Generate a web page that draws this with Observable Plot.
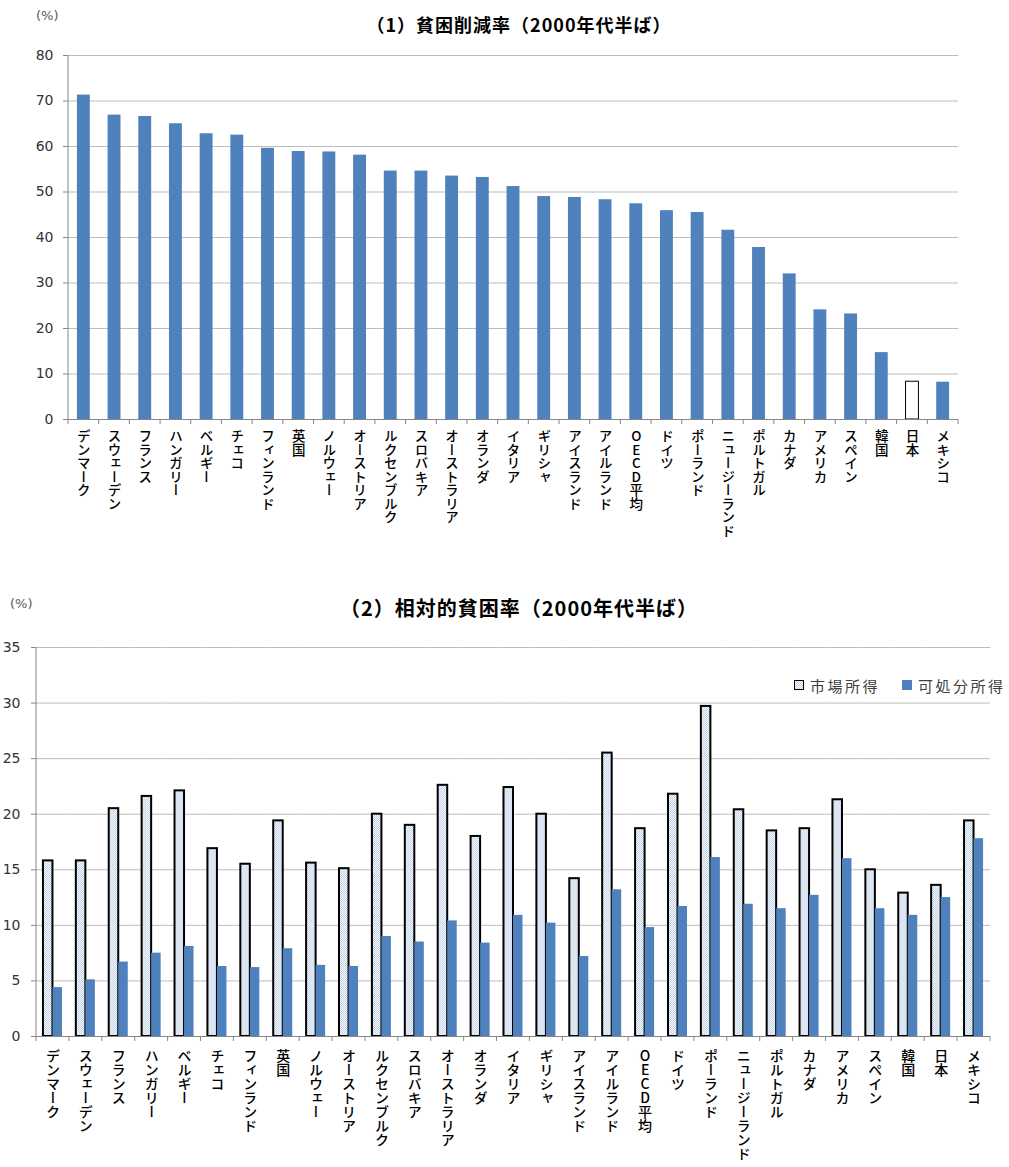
<!DOCTYPE html>
<html><head><meta charset="utf-8">
<script src="https://cdn.jsdelivr.net/npm/d3@7"></script>
<script src="https://cdn.jsdelivr.net/npm/@observablehq/plot@0.6"></script>
<style>
body{margin:0;background:#fff;width:1009px;height:1167px;position:relative;overflow:hidden;font-family:"Noto Sans CJK JP",sans-serif;}
.abs{position:absolute;}
.title{font-weight:bold;color:#000;white-space:nowrap;transform:translate(-50%,-50%);line-height:1;}
.pct{font-size:13px;color:#595959;font-family:"DejaVu Sans",sans-serif;line-height:1;transform:translateY(-50%);}
.leg{font-size:15px;letter-spacing:2.5px;color:#404040;line-height:1;transform:translateY(-50%);white-space:nowrap;}
.sw{position:absolute;width:8px;height:8px;}
.sw.pat{border:1.5px solid #000;background:repeating-conic-gradient(#b9cde5 0 25%, #fff 0 50%) 0 0/2px 2px;}
.sw.blue{background:#4f81bd;width:10px;height:10px;}
</style></head><body>
<div class="abs pct" style="left:36px;top:15px">(%)</div>
<div class="abs title" style="left:519px;top:24px;font-size:18px;letter-spacing:1px">（1）貧困削減率（2000年代半ば）</div>
<div id="c1" class="abs" style="left:0;top:40px"></div>
<div class="abs pct" style="left:10px;top:603px">(%)</div>
<div class="abs title" style="left:519px;top:608px;font-size:20px;letter-spacing:1px">（2）相対的貧困率（2000年代半ば）</div>
<div id="c2" class="abs" style="left:0;top:630px"></div>
<div class="sw pat" style="left:794px;top:680px"></div>
<div class="abs leg" id="leg1" style="left:810px;top:685px"></div>
<div class="sw blue" style="left:902px;top:680px"></div>
<div class="abs leg" id="leg2" style="left:918px;top:685px"></div>
<script>
const categories = ["デンマーク","スウェーデン","フランス","ハンガリー","ベルギー","チェコ","フィンランド","英国","ノルウェー","オーストリア","ルクセンブルク","スロバキア","オーストラリア","オランダ","イタリア","ギリシャ","アイスランド","アイルランド","OECD平均","ドイツ","ポーランド","ニュージーランド","ポルトガル","カナダ","アメリカ","スペイン","韓国","日本","メキシコ"];
const reductionRate = [71.3,66.9,66.6,65.0,62.8,62.5,59.6,58.9,58.8,58.1,54.6,54.6,53.5,53.2,51.2,49.0,48.8,48.3,47.4,45.9,45.5,41.6,37.8,32.0,24.1,23.2,14.7,8.3,8.2];
const seriesNames = ["市場所得","可処分所得"];
const marketIncome = [15.8,15.8,20.5,21.6,22.1,16.9,15.5,19.4,15.6,15.1,20.0,19.0,22.6,18.0,22.4,20.0,14.2,25.5,18.7,21.8,29.7,20.4,18.5,18.7,21.3,15.0,12.9,13.6,19.4];
const disposableIncome = [4.4,5.1,6.7,7.5,8.1,6.3,6.2,7.9,6.4,6.3,9.0,8.5,10.4,8.4,10.9,10.2,7.2,13.2,9.8,11.7,16.1,11.9,11.5,12.7,16.0,11.5,10.9,12.5,17.8];
const highlight = "日本";
const ticks1 = [0,10,20,30,40,50,60,70,80];
const ticks2 = [0,5,10,15,20,25,30,35];

const blue = "#4f81bd", gridColor = "#bdbdbd", axisColor = "#868686";

document.getElementById("leg1").textContent = seriesNames[0];
document.getElementById("leg2").textContent = seriesNames[1];

function decorate(node, xName, labelSize) {
  const svg = d3.select(node);
  const xs = node.scale(xName), ys = node.scale("y");
  const [r0, r1] = xs.range;
  const n = xs.domain.length, step = (r1 - r0) / n;
  const yBase = ys.apply(0), yTop = ys.apply(ys.domain[1]);
  const g = svg.append("g").attr("stroke", axisColor).attr("fill", "none");
  g.append("line").attr("x1", r0).attr("x2", r0).attr("y1", yTop).attr("y2", yBase);
  d3.range(n + 1).forEach(i => {
    const x = r0 + i * step;
    g.append("line").attr("x1", x).attr("x2", x).attr("y1", yBase).attr("y2", yBase + 5);
  });
  svg.selectAll(`g[aria-label="${xName}-axis tick label"]`)
    .attr("text-anchor", "start")
    .attr("font-family", '"Noto Sans CJK JP", sans-serif')
    .attr("font-weight", 500)
    .attr("font-size", labelSize);
  svg.selectAll(`g[aria-label="${xName}-axis tick label"] text`)
    .attr("y", null).attr("dy", null)
    .attr("writing-mode", "vertical-rl")
    .style("text-orientation", "upright");
}

// Chart 1
const data1 = categories.map((name, i) => ({name, value: reductionRate[i]}));
const chart1 = Plot.plot({
  width: 1009, height: 504,
  marginTop: 15, marginLeft: 68, marginRight: 51, marginBottom: 125,
  style: {fontFamily: "DejaVu Sans, sans-serif", fontSize: "14px", color: "#333", background: "white", overflow: "visible"},
  x: {domain: categories, paddingInner: 0.58, paddingOuter: 0.29, round: false, label: null},
  y: {domain: [0, 80], label: null},
  marks: [
    Plot.gridY(ticks1, {stroke: gridColor, strokeOpacity: 1}),
    Plot.barY(data1.filter(d => d.name !== highlight), {x: "name", y: "value", fill: blue}),
    Plot.barY(data1.filter(d => d.name === highlight), {x: "name", y: "value", fill: "white", stroke: "#000", strokeWidth: 1}),
    Plot.ruleY([0], {stroke: axisColor}),
    Plot.axisY({ticks: ticks1, tickSize: 5, tickPadding: 10, stroke: axisColor, fontSize: 14, label: null}),
    Plot.axisX({tickSize: 0, tickPadding: 10, label: null, fill: "#000"})
  ]
});
document.getElementById("c1").appendChild(chart1);
decorate(chart1, "x", 13.5);

// Chart 2
const rows2 = categories.flatMap((name, i) => [
  {name, series: seriesNames[0], value: marketIncome[i]},
  {name, series: seriesNames[1], value: disposableIncome[i]}
]);
const chart2 = Plot.plot({
  width: 1009, height: 537,
  marginTop: 17, marginLeft: 36, marginRight: 19, marginBottom: 131,
  style: {fontFamily: "DejaVu Sans, sans-serif", fontSize: "14px", color: "#333", background: "white", overflow: "visible"},
  fx: {domain: categories, padding: 0, round: false, label: null},
  x: {domain: seriesNames, paddingInner: 0, paddingOuter: 0.73, round: false, axis: null},
  y: {domain: [0, 35], label: null},
  marks: [
    Plot.gridY(ticks2, {stroke: gridColor, strokeOpacity: 1}),
    Plot.barY(rows2.filter(d => d.series === seriesNames[0]), {fx: "name", x: "series", y: "value", fill: "url(#dotPattern)", stroke: "#000", strokeWidth: 2}),
    Plot.barY(rows2.filter(d => d.series === seriesNames[1]), {fx: "name", x: "series", y: "value", fill: blue}),
    Plot.ruleY([0], {stroke: axisColor}),
    Plot.axisY({ticks: ticks2, tickSize: 5, tickPadding: 11, stroke: axisColor, fontSize: 14, label: null}),
    Plot.axisFx({anchor: "bottom", tickSize: 0, tickPadding: 12, label: null, fill: "#000"})
  ]
});
const defs = d3.select(chart2).insert("defs", ":first-child");
const pat = defs.append("pattern").attr("id", "dotPattern").attr("width", 2).attr("height", 2).attr("patternUnits", "userSpaceOnUse");
pat.append("rect").attr("width", 2).attr("height", 2).attr("fill", "#ffffff");
pat.append("rect").attr("width", 1).attr("height", 1).attr("fill", "#b9cde5");
pat.append("rect").attr("x", 1).attr("y", 1).attr("width", 1).attr("height", 1).attr("fill", "#b9cde5");
document.getElementById("c2").appendChild(chart2);
decorate(chart2, "fx", 14);
</script>
</body></html>
